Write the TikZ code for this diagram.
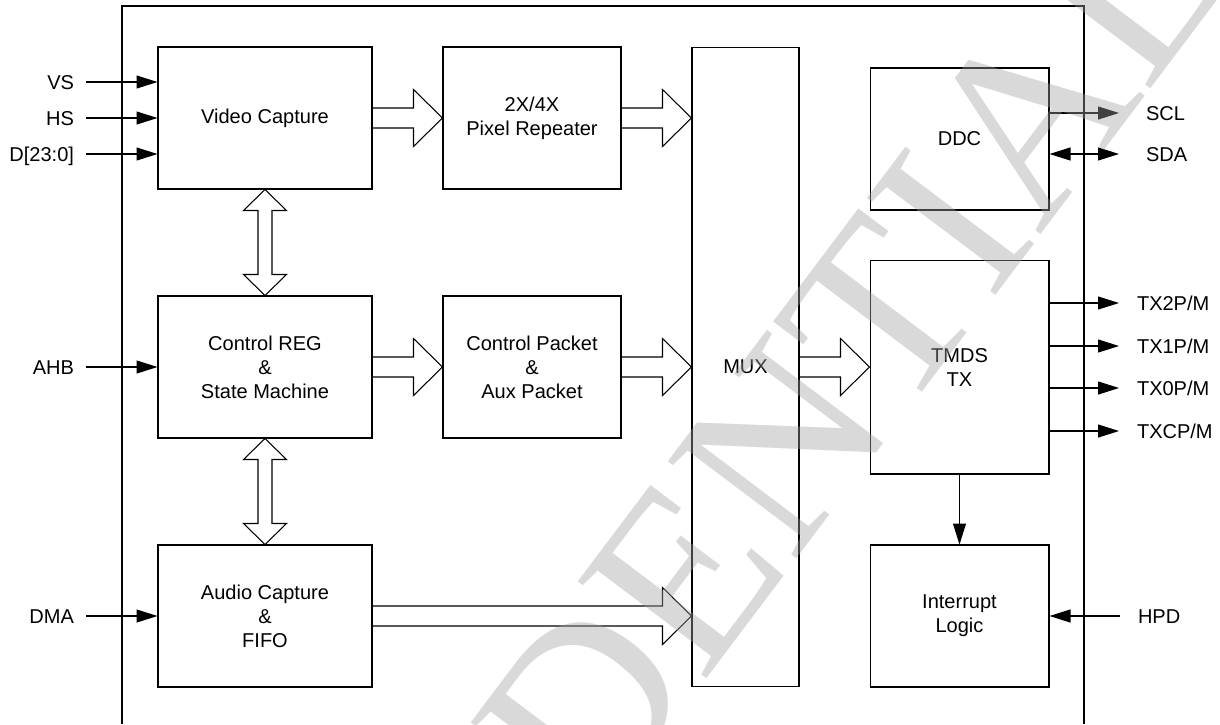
\documentclass[tikz,border=0pt]{standalone}
\usepackage{fontspec}
\setmainfont{Liberation Sans}
\newfontfamily\wmfont{Liberation Serif}
\usetikzlibrary{arrows.meta, calc}

\tikzset{
  blk/.style={draw, line width=0.6pt, minimum width=3.58cm, minimum height=2.84cm, align=center, inner sep=0pt},
  pinl/.style={anchor=east, inner sep=0pt, outer xsep=0.24cm, text height=8.2pt, text depth=0pt},
  pinr/.style={anchor=west, inner sep=0pt, outer xsep=0.36cm, text height=8.2pt, text depth=0pt},
  sig/.style={-{Triangle[length=0.42cm, width=0.26cm]}, line width=0.6pt},
  sigboth/.style={{Triangle[length=0.42cm, width=0.26cm]}-{Triangle[length=0.42cm, width=0.26cm]}, line width=0.6pt},
  bus/.style={line width=0.6pt},
}

% wide hollow arrow from box #1 to box #2
\newcommand{\busarrow}[2]{%
  \coordinate (tip) at (#2.west|-#1.east);
  \draw[bus] ($(#1.east)+(0,-10)$) -- ($(tip)+(-29,-10)$) -- ($(tip)+(-29,-28.5)$) -- (tip)
    -- ($(tip)+(-29,28.5)$) -- ($(tip)+(-29,10)$) -- ($(#1.east)+(0,10)$);}
% two-way hollow arrow between stacked boxes
\newcommand{\dualbus}[2]{%
  \coordinate (dtop) at (#1.south);
  \coordinate (dbot) at (#2.north);
  \draw[bus] (dtop) -- ($(dtop)+(21.5,21)$) -- ($(dtop)+(7,21)$) -- ($(dbot)+(7,-21)$)
    -- ($(dbot)+(21.5,-21)$) -- (dbot) -- ($(dbot)+(-21.5,-21)$) -- ($(dbot)+(-7,-21)$)
    -- ($(dtop)+(-7,21)$) -- ($(dtop)+(-21.5,21)$) -- cycle;}

\begin{document}
\begin{tikzpicture}[x=0.02cm, y=-0.02cm, every node/.style={font=\fontsize{11.4}{13.66}\selectfont}]
  \useasboundingbox (0,0) rectangle (1220,724);
  % outer frame
  \draw[line width=0.6pt] (122,724) -- (122,6) -- (1084,6) -- (1084,724);

  % blocks
  \node[blk, minimum width=4.28cm] (vc) at (265,118) {Video Capture};
  \node[blk, minimum width=4.28cm] (creg) at (265,367) {Control REG\\\&\\State Machine};
  \node[blk, minimum width=4.28cm] (acap) at (265,616) {Audio Capture\\\&\\FIFO};
  \node[blk, minimum width=3.56cm] (prep) at (532,118) {2X/4X\\Pixel Repeater};
  \node[blk, minimum width=3.56cm] (cpkt) at (532,367) {Control Packet\\\&\\Aux Packet};
  \node[blk, minimum width=2.14cm, minimum height=12.8cm] (mux) at (745.5,367) {MUX};
  \node[blk] (ddc) at (959.5,139) {DDC};
  \node[blk, minimum height=4.28cm] (tmds) at (959.5,367) {TMDS\\TX};
  \node[blk] (intr) at (959.5,616) {Interrupt\\Logic};

  % inputs
  \foreach \y/\name/\txt in {82/vs/VS, 118/hs/HS, 154/dat/D[23:0]}
  {
    \node[pinl] (\name) at (86,\y) {\txt};
    \draw[sig] (\name) -- (vc.west|-\name);
  }
  \node[pinl] (ahb) at (86,367) {AHB};
  \draw[sig] (ahb) -- (creg.west|-ahb);
  \node[pinl] (dma) at (86,616) {DMA};
  \draw[sig] (dma) -- (acap.west|-dma);

  % outputs
  \node[pinr, outer xsep=0.54cm] (scl) at (1119,113) {SCL};
  \node[pinr, outer xsep=0.54cm] (sda) at (1119,154) {SDA};
  \draw[sig] (ddc.east|-scl) -- (scl.west);
  \draw[sigboth] (ddc.east|-sda) -- (sda.west);
  \foreach \y/\name/\txt in {303/txtwo/{TX2P/M}, 346/txone/{TX1P/M}, 388/txzero/{TX0P/M}, 431/txclk/{TXCP/M}}
  {
    \node[pinr] (\name) at (1119,\y) {\txt};
    \draw[sig] (tmds.east|-\name) -- (\name.west);
  }
  \node[pinr] (hpd) at (1120,616) {HPD};
  \draw[sig] (hpd.west) -- (intr.east|-hpd);
  \draw[sig] (tmds) -- (intr);

  % data paths
  \busarrow{vc}{prep}
  \busarrow{prep}{mux}
  \busarrow{creg}{cpkt}
  \busarrow{cpkt}{mux}
  \busarrow{acap}{mux}
  \busarrow{mux}{tmds}
  \dualbus{vc}{creg}
  \dualbus{creg}{acap}

  % watermark
  \node[font=\wmfont\fontsize{140}{140}\selectfont, text=black!37, opacity=0.4, rotate=53,
        inner sep=0pt, text depth=0pt] (wmark) at (629,646) {CONFIDENTIAL};
\end{tikzpicture}
\end{document}
